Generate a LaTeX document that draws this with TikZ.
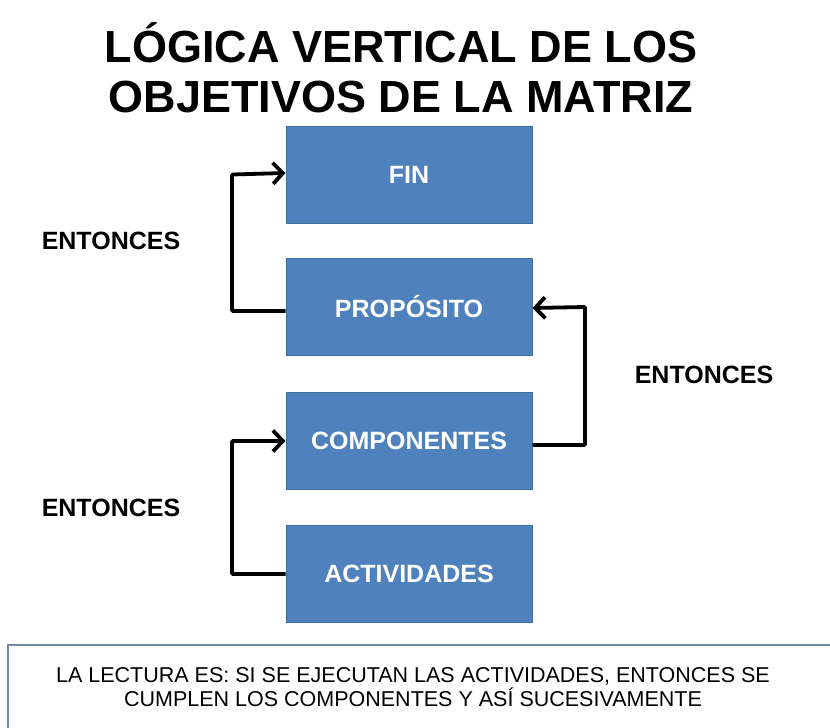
\documentclass[tikz,border=0pt]{standalone}
\usepackage{fontspec}
\setmainfont{Liberation Sans}
\usetikzlibrary{arrows.meta}
\definecolor{boxfill}{HTML}{4F81BD}
\definecolor{boxline}{HTML}{3F6E9E}
\definecolor{noteline}{HTML}{6F87AA}
\begin{document}
\begin{tikzpicture}[x=1pt,y=-1pt,
  blockbox/.style={draw=boxline,line width=1pt,fill=boxfill,minimum width=246pt,minimum height=97pt,inner sep=0pt,
    text=white,font=\fontsize{25}{29}\selectfont\bfseries},
  flow/.style={line width=3.8pt,-{Straight Barb[length=10pt,width=21pt,line width=3.8pt]},rounded corners=1pt},
  thenlabel/.style={font=\fontsize{25}{29}\selectfont\bfseries,text=black}]
\useasboundingbox (0,0) rectangle (830,728);
\node[font=\fontsize{45}{50}\selectfont\bfseries,align=center] (title) at (401,68) {LÓGICA VERTICAL DE LOS\\OBJETIVOS DE LA MATRIZ};
\node[blockbox] (fin) at (409,174.5) {FIN};
\node[blockbox] (prop) at (409,307) {PROPÓSITO};
\node[blockbox] (comp) at (409,441) {COMPONENTES};
\node[blockbox] (act) at (409,574) {ACTIVIDADES};
\coordinate (l1) at (232,0);
\coordinate (l2) at (232,0);
\coordinate (r1) at (585,0);
\draw[flow] ([yshift=-4pt]prop.west) -| (l1 |- fin.west) -- ([yshift=1.5pt]fin.west);
\draw[flow] (act.west) -| (l2 |- comp.west) -- (comp.west);
\draw[flow] ([yshift=-4pt]comp.east) -| (r1 |- prop.east) -- ([yshift=-1pt]prop.east);
\node[thenlabel] (t1) at (111,241) {ENTONCES};
\node[thenlabel] (t2) at (111,508) {ENTONCES};
\node[thenlabel] (t3) at (704,375) {ENTONCES};
\draw[noteline,line width=1.6pt,fill=white] (8,645) rectangle (845,760);
\node[font=\fontsize{21.5}{24}\selectfont,align=center] (note) at (413,687) {LA LECTURA ES: SI SE EJECUTAN LAS ACTIVIDADES, ENTONCES SE\\CUMPLEN LOS COMPONENTES Y ASÍ SUCESIVAMENTE};
\end{tikzpicture}
\end{document}
